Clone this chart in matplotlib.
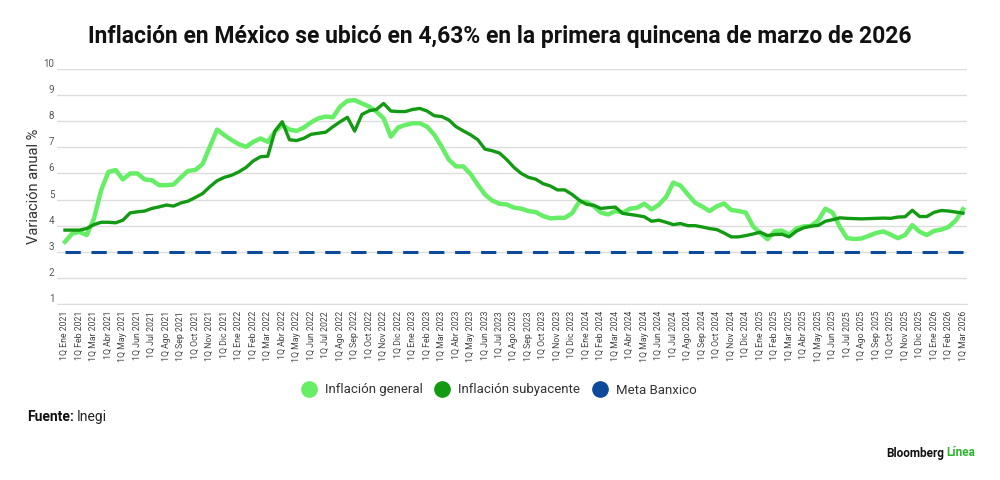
import matplotlib
matplotlib.use("Agg")
import matplotlib.pyplot as plt
from matplotlib.lines import Line2D

plt.rcParams['font.family'] = ['Roboto', 'DejaVu Sans']

months = ["Ene", "Feb", "Mar", "Abr", "May", "Jun", "Jul", "Ago", "Sep", "Oct", "Nov", "Dic"]
years = [2021, 2022, 2023, 2024, 2025, 2026]
tick_labels = [f"1Q {m} {y}" for y in years for m in months][:63]

general = [3.38, 3.70, 3.76, 3.64, 4.27, 5.36, 6.06, 6.13, 5.77, 6.00,
           6.00, 5.77, 5.74, 5.55, 5.55, 5.58, 5.85, 6.10, 6.13, 6.36,
           7.02, 7.68, 7.47, 7.28, 7.12, 7.02, 7.21, 7.34, 7.21, 7.60,
           7.85, 7.68, 7.63, 7.76, 7.96, 8.11, 8.18, 8.15, 8.56, 8.78,
           8.81, 8.68, 8.56, 8.37, 8.11, 7.41, 7.76, 7.86, 7.92, 7.92,
           7.79, 7.48, 7.03, 6.53, 6.27, 6.27, 5.98, 5.57, 5.19, 4.96,
           4.84, 4.81, 4.69, 4.65, 4.56, 4.52, 4.37, 4.28, 4.30, 4.30,
           4.47, 4.91, 4.91, 4.75, 4.50, 4.43, 4.56, 4.50, 4.65, 4.69,
           4.84, 4.62, 4.80, 5.10, 5.65, 5.53, 5.20, 4.88, 4.73, 4.56,
           4.74, 4.85, 4.60, 4.56, 4.50, 3.98, 3.72, 3.48, 3.79, 3.81,
           3.66, 3.89, 3.97, 3.99, 4.20, 4.65, 4.50, 3.95, 3.52, 3.49,
           3.51, 3.61, 3.72, 3.78, 3.66, 3.52, 3.64, 4.02, 3.77, 3.64,
           3.80, 3.85, 3.95, 4.20, 4.63]

subyacente = [3.83, 3.83, 3.83, 3.89, 4.04, 4.13, 4.13, 4.11, 4.21, 4.49,
              4.53, 4.56, 4.66, 4.72, 4.79, 4.75, 4.87, 4.94, 5.08, 5.23,
              5.49, 5.72, 5.85, 5.93, 6.06, 6.23, 6.48, 6.64, 6.66, 7.63,
              7.98, 7.29, 7.26, 7.35, 7.50, 7.54, 7.58, 7.79, 7.98, 8.15,
              7.62, 8.26, 8.40, 8.45, 8.68, 8.39, 8.37, 8.37, 8.45, 8.49,
              8.39, 8.21, 8.18, 8.05, 7.79, 7.63, 7.48, 7.29, 6.93, 6.87,
              6.78, 6.53, 6.23, 6.00, 5.85, 5.78, 5.61, 5.52, 5.37, 5.37,
              5.20, 4.98, 4.82, 4.78, 4.66, 4.69, 4.71, 4.47, 4.43, 4.39,
              4.34, 4.17, 4.21, 4.13, 4.04, 4.08, 4.00, 4.00, 3.95, 3.89,
              3.85, 3.72, 3.57, 3.57, 3.62, 3.68, 3.75, 3.62, 3.66, 3.67,
              3.57, 3.79, 3.92, 3.98, 4.01, 4.17, 4.23, 4.30, 4.28, 4.27,
              4.26, 4.27, 4.28, 4.29, 4.28, 4.33, 4.34, 4.59, 4.35, 4.35,
              4.51, 4.58, 4.56, 4.52, 4.48]

meta = 3.0
y_ticks = list(range(1, 11))

c_general = "#66EE66"
c_sub = "#139A13"
c_meta = "#0D4A9A"

n = len(general)
x = list(range(n))

fig = plt.figure(figsize=(10, 4.8), dpi=100)
ax = fig.add_axes([0.057, 1 - 304 / 480, 0.910, (304 - 69) / 480])

ax.plot(x, [meta] * n, color=c_meta, lw=2.2, dashes=(5, 3.5), zorder=2)
ax.plot(x, general, color=c_general, lw=3.2, solid_joinstyle='round', zorder=3)
ax.plot(x, subyacente, color=c_sub, lw=2.4, solid_joinstyle='round', zorder=4)

ax.set_xlim(-1.1, n - 1 + 0.55)
ax.set_ylim(1, 10)
ax.set_yticks(y_ticks)
ax.set_yticklabels([str(v) for v in y_ticks], fontsize=7, color="#555555", va='bottom')
ax.tick_params(axis='y', length=0, pad=2)
ax.grid(axis='y', color="#DDDDDD", lw=1)
ax.set_axisbelow(True)

ax.set_xticks(x[::2])
ax.set_xticklabels(tick_labels, rotation=90, fontsize=6.3, color="#444444")
ax.tick_params(axis='x', length=0, pad=5)

for s in ["top", "right", "left"]:
    ax.spines[s].set_visible(False)
ax.spines["bottom"].set_color("#DDDDDD")

ax.set_ylabel("Variación anual %", fontsize=10.5, color="#333333", labelpad=2)

fig.text(0.5, 0.923, "Inflación en México se ubicó en 4,63% en la primera quincena de marzo de 2026",
         ha='center', va='center', fontsize=16.5, fontweight='bold', color="#111111")

handles = [Line2D([], [], ls='none', marker='o', markersize=11, color=c_general),
           Line2D([], [], ls='none', marker='o', markersize=11, color=c_sub),
           Line2D([], [], ls='none', marker='o', markersize=11, color=c_meta)]
fig.legend(handles, ["Inflación general", "Inflación subyacente", "Meta Banxico"],
           loc='center', bbox_to_anchor=(0.496, 1 - 390 / 480), ncol=3, frameon=False,
           fontsize=9.5, handletextpad=0.2, columnspacing=0.5, labelcolor="#333333")

fig.text(0.027, 1 - 417 / 480, "Fuente:", fontsize=10, fontweight='bold', va='center', color="#111111")
fig.text(0.077, 1 - 417 / 480, "Inegi", fontsize=10, va='center', color="#222222")

fig.text(0.886, 1 - 453 / 480, "Bloomberg", fontsize=8.5, fontweight='bold', va='center', color="#111111")
fig.text(0.946, 1 - 453 / 480, "Línea", fontsize=8.5, fontweight='bold', va='center', color="#2DB52D")

fig.savefig("out.png", dpi=100, facecolor="white")
